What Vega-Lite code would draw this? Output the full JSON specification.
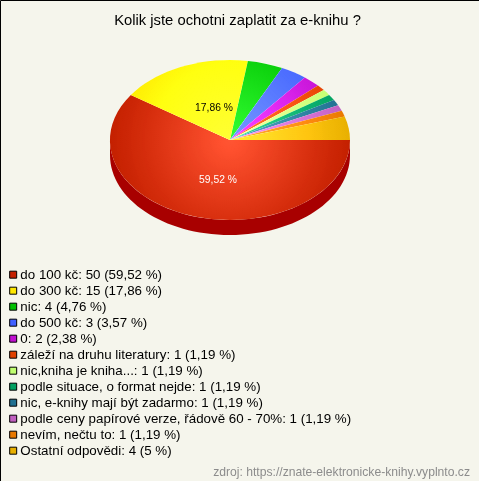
{"$schema":"https://vega.github.io/schema/vega-lite/v6.json","width":479,"height":481,"padding":0,"autosize":{"type":"none"},"background":"#f5f5ec","view":{"stroke":"#000000","strokeWidth":1,"fill":null},
"title":{"text":"Kolik jste ochotni zaplatit za e-knihu ?","anchor":"middle","orient":"top","offset":0,"dx":-2,"dy":28,"font":"Liberation Sans","fontSize":14.8,"fontWeight":"normal","color":"#000000"},
"data":{"values":[
{"rank":1,"answer":"do 100 kč: 50 (59,52 %)","count":50,"pct":"59,52 %"},
{"rank":2,"answer":"do 300 kč: 15 (17,86 %)","count":15,"pct":"17,86 %"},
{"rank":3,"answer":"nic: 4 (4,76 %)","count":4,"pct":"4,76 %"},
{"rank":4,"answer":"do 500 kč: 3 (3,57 %)","count":3,"pct":"3,57 %"},
{"rank":5,"answer":"0: 2 (2,38 %)","count":2,"pct":"2,38 %"},
{"rank":6,"answer":"záleží na druhu literatury: 1 (1,19 %)","count":1,"pct":"1,19 %"},
{"rank":7,"answer":"nic,kniha je kniha...: 1 (1,19 %)","count":1,"pct":"1,19 %"},
{"rank":8,"answer":"podle situace, o format nejde: 1 (1,19 %)","count":1,"pct":"1,19 %"},
{"rank":9,"answer":"nic, e-knihy mají být zadarmo: 1 (1,19 %)","count":1,"pct":"1,19 %"},
{"rank":10,"answer":"podle ceny papírové verze, řádově 60 - 70%: 1 (1,19 %)","count":1,"pct":"1,19 %"},
{"rank":11,"answer":"nevím, nečtu to: 1 (1,19 %)","count":1,"pct":"1,19 %"},
{"rank":12,"answer":"Ostatní odpovědi: 4 (5 %)","count":4,"pct":"5 %"}
]},
"encoding":{"x":{"datum":0,"type":"quantitative","axis":null,"scale":{"domain":[-230,249],"range":[0,479]}},"y":{"datum":0,"type":"quantitative","axis":null,"scale":{"domain":[-140,341],"range":[0,481]}}},
"layer":[
{"transform":[{"filter":"datum.count==50"}],"mark":{"type":"point","filled":true,"opacity":1,"size":4,"fill":"#a80000","shape":"M120,0A120,80 0 0 1 -120,0L-120,15A120,80 0 0 0 120,15Z"}},
{"mark":{"type":"point","filled":true,"opacity":1,"size":4},
"encoding":{
"color":{"field":"answer","type":"nominal","sort":null,"scale":{"domain":["do 100 kč: 50 (59,52 %)","do 300 kč: 15 (17,86 %)","nic: 4 (4,76 %)","do 500 kč: 3 (3,57 %)","0: 2 (2,38 %)","záleží na druhu literatury: 1 (1,19 %)","nic,kniha je kniha...: 1 (1,19 %)","podle situace, o format nejde: 1 (1,19 %)","nic, e-knihy mají být zadarmo: 1 (1,19 %)","podle ceny papírové verze, řádově 60 - 70%: 1 (1,19 %)","nevím, nečtu to: 1 (1,19 %)","Ostatní odpovědi: 4 (5 %)"],"range":["#c42000","#ffe800","#00c000","#4060ff","#c010d0","#e04000","#c0ff70","#00a060","#207090","#c060c0","#e87800","#e8b000"]},
"legend":{"orient":"none","legendX":6.5,"legendY":268,"title":null,"symbolType":"square","symbolSize":49,"symbolStrokeColor":"#000000","symbolStrokeWidth":1,"labelFont":"Liberation Sans","labelFontSize":13.35,"labelColor":"#000000","labelLimit":460,"labelOffset":0.5,"rowPadding":1}},
"shape":{"field":"rank","type":"ordinal","legend":null,"scale":{"domain":[1,2,3,4,5,6,7,8,9,10,11,12],"range":[
"M0,0L120,0A120,80 0 1 1 -99.15,-45.07Z",
"M0,0L-99.15,-45.07A120,80 0 0 1 17.88,-79.1Z",
"M0,0L17.88,-79.1A120,80 0 0 1 52.07,-72.08Z",
"M0,0L52.07,-72.08A120,80 0 0 1 74.82,-62.55Z",
"M0,0L74.82,-62.55A120,80 0 0 1 87.97,-54.41Z",
"M0,0L87.97,-54.41A120,80 0 0 1 93.82,-49.88Z",
"M0,0L93.82,-49.88A120,80 0 0 1 99.15,-45.07Z",
"M0,0L99.15,-45.07A120,80 0 0 1 103.92,-40Z",
"M0,0L103.92,-40A120,80 0 0 1 108.12,-34.71Z",
"M0,0L108.12,-34.71A120,80 0 0 1 111.71,-29.23Z",
"M0,0L111.71,-29.23A120,80 0 0 1 114.67,-23.58Z",
"M0,0L114.67,-23.58A120,80 0 0 1 120,0Z"]}}}},
{"transform":[{"filter":"datum.count==50"}],"mark":{"type":"point","filled":true,"opacity":1,"size":4,"blend":"color-dodge","shape":"M-120,0A120,80 0 1 1 120,0A120,80 0 1 1 -120,0Z","fill":{"gradient":"radial","x1":0.5,"y1":0.5,"r1":0,"x2":0.5,"y2":0.5,"r2":0.5,"stops":[{"offset":0,"color":"#404040"},{"offset":1,"color":"#000000"}]}}},
{"transform":[{"filter":"datum.count==50"}],"mark":{"type":"point","filled":true,"opacity":1,"size":4,"shape":"M-120,0A120,80 0 1 1 120,0A120,80 0 1 1 -120,0Z","fill":{"gradient":"radial","x1":0.5,"y1":0.5,"r1":0,"x2":0.5,"y2":0.5,"r2":0.5,"stops":[{"offset":0,"color":"rgba(255,255,255,0.2)"},{"offset":0.7,"color":"rgba(255,255,255,0.05)"},{"offset":1,"color":"rgba(255,255,255,0)"}]}}},
{"transform":[{"filter":"datum.count==50"}],"mark":{"type":"text","font":"Liberation Sans","fontSize":10.3,"color":"#ffffff","align":"center","baseline":"middle"},"encoding":{"text":{"field":"pct"},"x":{"datum":-12},"y":{"datum":40}}},
{"transform":[{"filter":"datum.count==15"}],"mark":{"type":"text","font":"Liberation Sans","fontSize":10.3,"color":"#000000","align":"center","baseline":"middle"},"encoding":{"text":{"field":"pct"},"x":{"datum":-16},"y":{"datum":-32}}},
{"transform":[{"filter":"datum.count==50"}],"mark":{"type":"text","font":"Liberation Sans","fontSize":12.15,"color":"#8c8c8c","align":"right","baseline":"middle","text":"zdroj: https://znate-elektronicke-knihy.vyplnto.cz"},"encoding":{"x":{"datum":240},"y":{"datum":332}}}
]}
